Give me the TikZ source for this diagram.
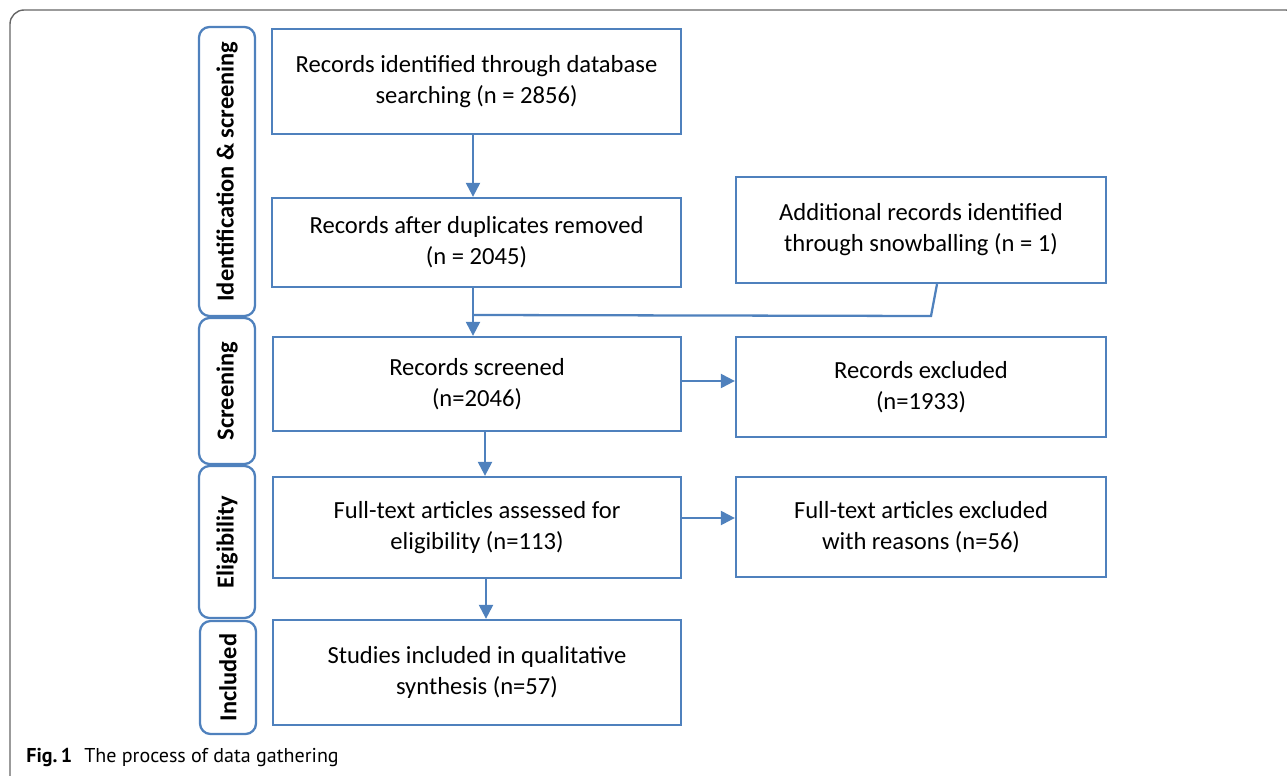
\documentclass[tikz,border=0pt]{standalone}
\usepackage{fontspec}
\setmainfont{Carlito}
\newfontfamily\capfont{PT Sans}
\usetikzlibrary{arrows.meta}
\definecolor{boxblue}{HTML}{4F81BD}
\definecolor{framegray}{HTML}{666666}
\tikzset{
  px/.style={x=0.02cm,y=-0.02cm},
  stepbox/.style={draw=boxblue,line width=1.3pt,align=center,inner sep=0pt,
    font=\fontsize{14pt}{17.6pt}\selectfont},
  phase/.style={draw=boxblue,line width=1.3pt,rounded corners=6pt,inner sep=0pt},
  phasetext/.style={rotate=90,font=\fontsize{13.9pt}{15pt}\selectfont\bfseries},
  flow/.style={draw=boxblue,line width=1.3pt,-{Triangle[length=8pt,width=8pt]}},
  plain/.style={draw=boxblue,line width=1.3pt},
}
\begin{document}
\begin{tikzpicture}[px]
\useasboundingbox (0,0) rectangle (1287,776);
\begin{scope}
\clip (0,0) rectangle (1287,776);
\draw[framegray,line width=0.8pt,rounded corners=8pt] (10,10) rectangle (1300,790);
\end{scope}
% phase labels
\draw[phase] (199,27) rectangle (255,316);
\node[phasetext] (ph1) at (227,171.5) {Identification \& screening};
\draw[phase] (199,318) rectangle (255,464);
\node[phasetext] (ph2) at (227,391) {Screening};
\draw[phase] (199,466) rectangle (255,618);
\node[phasetext] (ph3) at (227,542) {Eligibility};
\draw[phase] (200,621) rectangle (256,734);
\node[phasetext] (ph4) at (228,677.5) {Included};
% boxes
\node[stepbox,minimum width=409*0.02cm,minimum height=105*0.02cm] (b1) at (476.5,81.5) {Records identified through database\\searching (n = 2856)};
\node[stepbox,minimum width=409*0.02cm,minimum height=89*0.02cm] (b2) at (476.5,242.5) {Records after duplicates removed\\(n = 2045)};
\node[stepbox,minimum width=370*0.02cm,minimum height=106*0.02cm] (add) at (921,230) {Additional records identified\\through snowballing (n = 1)};
\node[stepbox,minimum width=408*0.02cm,minimum height=94*0.02cm] (b3) at (477,384) {Records screened\\(n=2046)};
\node[stepbox,minimum width=370*0.02cm,minimum height=100*0.02cm] (ex1) at (921,387) {Records excluded\\(n=1933)};
\node[stepbox,minimum width=408*0.02cm,minimum height=101*0.02cm] (b4) at (477,527.5) {Full-text articles assessed for\\eligibility (n=113)};
\node[stepbox,minimum width=370*0.02cm,minimum height=100*0.02cm] (ex2) at (921,527) {Full-text articles excluded\\with reasons (n=56)};
\node[stepbox,minimum width=408*0.02cm,minimum height=105*0.02cm] (b5) at (477,672.5) {Studies included in qualitative\\synthesis (n=57)};
% connectors
\coordinate (m1) at (473,315);
\coordinate (m2) at (931,316);
\draw[flow] (b1.south -| 473,0) -- (b2.north -| 473,0);
\draw[flow] (b2.south -| 473,0) -- (b3.north -| 473,0);
\draw[plain] (m1) -- (m2) -- (add.south -| 937,0);
\draw[flow] (b3.south -| 485,0) -- (b4.north -| 485,0);
\draw[flow] (b4.south -| 486,0) -- (b5.north -| 486,0);
\draw[flow] (b3.east |- 0,381) -- (ex1.west |- 0,381);
\draw[flow] (b4.east |- 0,518) -- (ex2.west |- 0,518);
% caption
\node[anchor=base west,inner sep=0pt,font=\capfont\fontsize{11.4pt}{13pt}\selectfont] (cap) at (26,762) {\textbf{Fig.\,1}\hspace{0.6em}The process of data gathering};
\end{tikzpicture}
\end{document}
